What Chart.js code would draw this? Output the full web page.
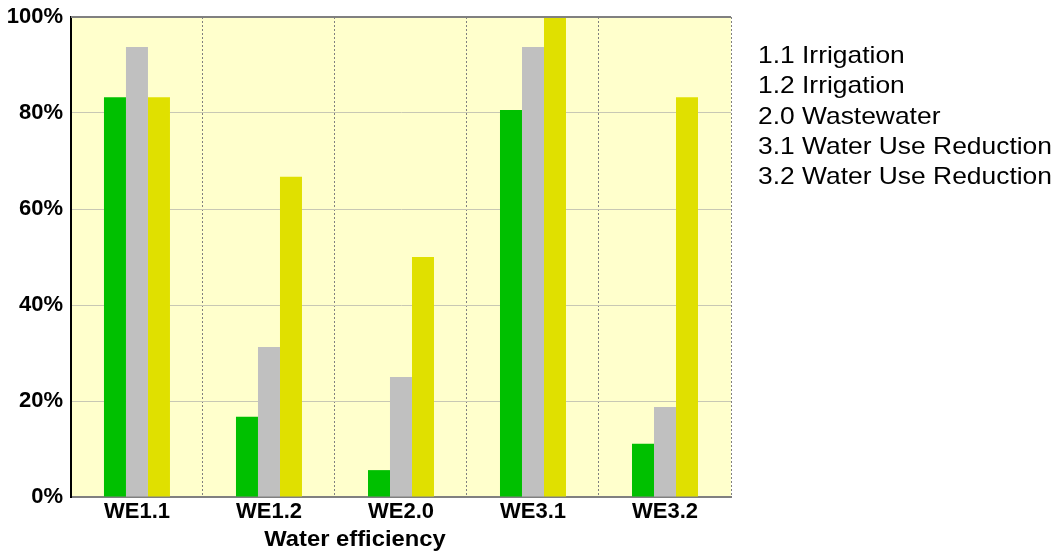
<!DOCTYPE html>
<html>
<head>
  <title>Water efficiency</title>
  <script src="https://cdn.jsdelivr.net/npm/chart.js@4.4.0/dist/chart.umd.min.js"></script>
  <style>
    body { margin: 0; background: #fff; }
    #wrap { position: relative; width: 1058px; height: 559px; }
    #notes { position: absolute; left: 758px; top: 40px; font: 24px "Liberation Sans", Arial, sans-serif; line-height: 30.3px; color: #000; white-space: nowrap; }
    #notes div { transform: scaleX(1.1); transform-origin: left center; }
    #xTitle { position: absolute; left: 0; width: 710px; top: 528px; text-align: center; font: bold 22px "Liberation Sans", Arial, sans-serif; line-height: 22px; color: #000; transform: scaleX(1.08); }
  </style>
</head>
<body>
  <div id="wrap">
    <canvas id="barChart" width="1058" height="559"></canvas>
    <div id="notes"></div>
    <div id="xTitle"></div>
  </div>

  <script>
    // values (percent)
    var categories = ["WE1.1", "WE1.2", "WE2.0", "WE3.1", "WE3.2"];
    var greenValues = [83.3, 16.7, 5.6, 80.6, 11.1];
    var greyValues = [93.75, 31.25, 25, 93.75, 18.75];
    var yellowValues = [83.3, 66.7, 50, 100, 83.3];
    var noteLines = ["1.1 Irrigation", "1.2 Irrigation", "2.0 Wastewater", "3.1 Water Use Reduction", "3.2 Water Use Reduction"];
    var axisTitle = "Water efficiency";

    var notes = document.getElementById("notes");
    noteLines.forEach(function(t) {
      var d = document.createElement("div");
      d.textContent = t;
      notes.appendChild(d);
    });
    document.getElementById("xTitle").textContent = axisTitle;

    // pale yellow plot area plus the grey top edge
    var plotBox = {
      id: "plotBox",
      beforeDraw: function(chart) {
        var a = chart.chartArea, ctx = chart.ctx;
        ctx.save();
        ctx.fillStyle = "#FFFFCC";
        ctx.fillRect(a.left, a.top, a.right - a.left, a.bottom - a.top);
        ctx.restore();
      },
      afterDraw: function(chart) {
        var a = chart.chartArea, ctx = chart.ctx;
        ctx.save();
        ctx.strokeStyle = "#808080";
        ctx.lineWidth = 2;
        ctx.beginPath();
        ctx.moveTo(a.left, a.top);
        ctx.lineTo(a.right, a.top);
        ctx.stroke();
        ctx.restore();
      }
    };

    var tickFont = { family: "'Liberation Sans', Arial, sans-serif", size: 22, weight: "bold" };

    var ctx = document.getElementById("barChart").getContext("2d");
    new Chart(ctx, {
      type: "bar",
      data: {
        labels: categories,
        datasets: [
          { data: greenValues, backgroundColor: "#00C000" },
          { data: greyValues, backgroundColor: "#C0C0C0" },
          { data: yellowValues, backgroundColor: "#E0E000" }
        ]
      },
      options: {
        responsive: false,
        animation: false,
        categoryPercentage: 0.5,
        barPercentage: 1.0,
        layout: { padding: { left: -1.3, top: 17, right: 327, bottom: 31.6 } },
        plugins: {
          legend: { display: false },
          tooltip: { enabled: false }
        },
        scales: {
          x: {
            grid: { offset: true, color: "#808080", lineWidth: 1, drawTicks: false },
            border: { color: "#808080", width: 2, dash: [2, 2] },
            ticks: { color: "#000", font: tickFont, padding: 2 }
          },
          y: {
            min: 0,
            max: 100,
            afterFit: function(scale) { scale.paddingTop = 0; },
            ticks: {
              stepSize: 20,
              color: "#000",
              font: tickFont,
              padding: 8,
              callback: function(v) { return v + "%"; }
            },
            grid: { color: "#C8C8B4", lineWidth: 1, drawTicks: false },
            border: { color: "#000", width: 2 }
          }
        }
      },
      plugins: [plotBox]
    });
  </script>
</body>
</html>
